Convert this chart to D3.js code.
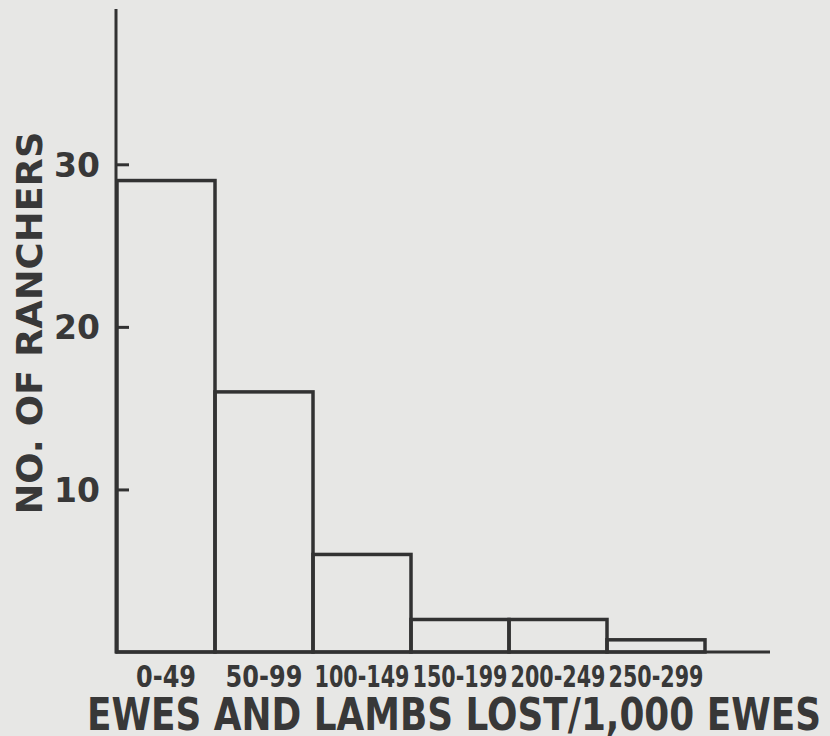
<!DOCTYPE html>
<html>
<head>
<meta charset="utf-8">
<script src="https://cdn.jsdelivr.net/npm/d3@7"></script>
<style>
  html, body { margin: 0; padding: 0; background: #e7e7e5; }
  svg { display: block; }
  text { font-family: "DejaVu Sans", sans-serif; fill: #383838; }
</style>
</head>
<body>
<script>
// ---- data ----
const categories = ["0-49", "50-99", "100-149", "150-199", "200-249", "250-299"];
const ranchers = [29, 16, 6, 2, 2, 0.75];
const yTicks = [10, 20, 30];
const yTitle = "NO. OF RANCHERS";
const xTitle = "EWES AND LAMBS LOST/1,000 EWES";

// ---- layout ----
const W = 830, H = 736;
const ink = "#323232";
const svg = d3.select("body").append("svg").attr("width", W).attr("height", H);
svg.append("rect").attr("width", W).attr("height", H).attr("fill", "#e7e7e5");

const x = d3.scaleBand().domain(categories).range([117, 705]).padding(0);
const y = d3.scaleLinear().domain([0, 30]).range([652, 164.3]);

// bars (outlined histogram)
svg.append("g").selectAll("rect")
  .data(categories.map((c, i) => ({ c, v: ranchers[i] })))
  .join("rect")
  .attr("x", d => x(d.c))
  .attr("y", d => y(d.v))
  .attr("width", x.bandwidth())
  .attr("height", d => y(0) - y(d.v))
  .attr("fill", "none")
  .attr("stroke", ink)
  .attr("stroke-width", 3.5);

// y axis
const yAxis = d3.axisLeft(y).tickValues(yTicks).tickSizeInner(-13).tickSizeOuter(0).tickPadding(16);
const gy = svg.append("g").attr("transform", "translate(116,0)").call(yAxis);
gy.select(".domain").remove();
gy.selectAll(".tick line").attr("stroke", ink).attr("stroke-width", 3);
gy.selectAll(".tick text")
  .style("font-size", "33px").style("font-weight", "bold")
  .attr("fill", "#383838").attr("dy", "0.36em");
svg.append("line").attr("x1", 116).attr("x2", 116).attr("y1", 9).attr("y2", y(0) + 1.5)
  .attr("stroke", ink).attr("stroke-width", 3);

// baseline
svg.append("line").attr("x1", 116).attr("x2", 770).attr("y1", y(0)).attr("y2", y(0))
  .attr("stroke", ink).attr("stroke-width", 3);

// x axis labels
const xAxis = d3.axisBottom(x).tickSize(0).tickPadding(14);
const gx = svg.append("g").attr("transform", `translate(0,${y(0)})`).call(xAxis);
gx.select(".domain").remove();
gx.selectAll(".tick text")
  .style("font-size", "30px").style("font-weight", "bold")
  .attr("fill", "#383838")
  .each(function () {
    const n = this.getComputedTextLength();
    d3.select(this).attr("textLength", Math.min(n * 0.8, x.bandwidth() - 3))
      .attr("lengthAdjust", "spacingAndGlyphs");
  });

// titles
svg.append("text")
  .attr("transform", "translate(42,323) rotate(-90)")
  .attr("text-anchor", "middle")
  .style("font-size", "35px").style("font-weight", "bold")
  .attr("textLength", 383).attr("lengthAdjust", "spacingAndGlyphs")
  .text(yTitle);

svg.append("text")
  .attr("x", 454).attr("y", 730)
  .attr("text-anchor", "middle")
  .style("font-size", "44px").style("font-weight", "bold")
  .attr("textLength", 734).attr("lengthAdjust", "spacingAndGlyphs")
  .text(xTitle);
</script>
</body>
</html>
